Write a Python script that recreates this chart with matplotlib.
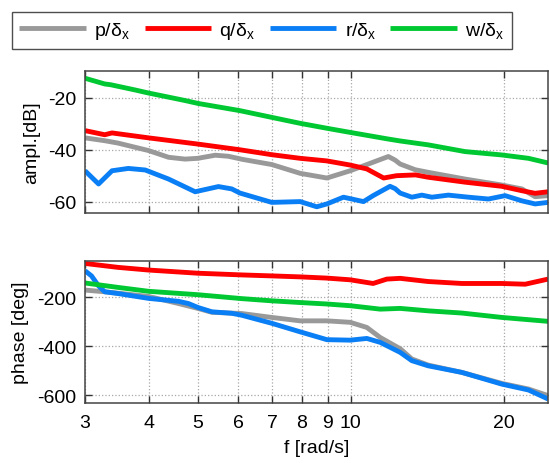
import matplotlib
matplotlib.use("Agg")
import matplotlib.pyplot as plt
from matplotlib.ticker import FixedLocator, FixedFormatter, NullLocator

plt.rcParams['font.family'] = ['Liberation Sans', 'DejaVu Sans']
plt.rcParams['axes.unicode_minus'] = False
plt.rcParams['mathtext.fontset'] = 'custom'
plt.rcParams['mathtext.rm'] = 'Liberation Sans'
plt.rcParams['mathtext.it'] = 'Liberation Sans'

# ---------------- data ----------------
series_labels = ["p/δ$_{\\mathregular{x}}$", "q/δ$_{\\mathregular{x}}$",
                 "r/δ$_{\\mathregular{x}}$", "w/δ$_{\\mathregular{x}}$"]
colors = ["#999999", "#ff0000", "#0a7ff5", "#00c832"]

# amplitude [dB]
p_amp_f = [3.00, 3.28, 3.48, 4.0, 4.38, 4.72, 5.0, 5.41, 5.74, 6.12, 6.99, 7.95, 8.97, 9.97,
           11.06, 11.85, 12.22, 12.5, 13.38, 14.19, 16.77, 19.81, 21.69, 23.03, 24.43]
p_amp = [-35.4, -36.5, -37.4, -40.3, -42.9, -43.6, -43.3, -42.1, -42.5, -43.7, -45.7, -49.1,
         -50.9, -48.1, -44.8, -42.6, -44.0, -45.5, -47.7, -48.7, -51.3, -53.6, -55.1, -58.1, -57.7]

q_amp_f = [3.00, 3.28, 3.39, 4.0, 5.0, 6.05, 6.99, 7.95, 8.97, 9.97, 10.75, 11.6, 12.3,
           13.4, 14.19, 16.77, 19.81, 21.69, 23.03, 24.43]
q_amp = [-32.6, -34.2, -33.5, -35.4, -37.8, -40.0, -41.9, -43.3, -44.3, -45.9, -47.4, -50.9,
         -50.0, -49.7, -50.6, -52.5, -54.1, -55.8, -56.8, -56.2]

r_amp_f = [3.00, 3.19, 3.39, 3.65, 3.94, 4.38, 4.94, 5.49, 5.83, 6.05, 6.99, 7.95, 8.57, 8.97,
           9.67, 10.59, 11.06, 11.94, 12.22, 12.5, 13.18, 13.79, 14.43, 15.55, 17.03, 18.64,
           20.11, 21.69, 23.03, 24.43]
r_amp = [-48.1, -53.2, -48.1, -47.2, -47.8, -51.3, -56.2, -54.2, -55.1, -56.7, -60.3, -60.0,
         -62.0, -60.9, -58.3, -60.0, -57.7, -54.1, -55.0, -56.7, -58.3, -57.5, -58.3, -57.5,
         -58.3, -59.0, -57.7, -59.7, -60.9, -60.3]

w_amp_f = [3.00, 3.28, 3.37, 3.76, 4.0, 4.72, 5.0, 6.05, 6.99, 7.95, 8.97, 9.97, 11.8, 12.5,
           14.19, 16.77, 19.81, 22.35, 24.43]
w_amp = [-12.4, -14.6, -14.9, -16.9, -18.1, -21.0, -22.1, -24.9, -27.5, -29.8, -31.7, -33.3,
         -35.8, -36.6, -38.1, -40.7, -42.0, -43.3, -45.1]

# phase [deg]
p_ph_f = [3.00, 3.28, 4.0, 4.58, 5.0, 5.33, 6.1, 6.99, 7.95, 8.97, 9.97, 10.75, 11.42, 12.5,
          13.18, 14.19, 16.53, 19.81, 22.35, 24.43]
p_ph = [-170, -177, -196, -225, -245, -261, -266, -282, -296, -296, -302, -323, -364, -410,
        -452, -477, -507, -552, -575, -602]

q_ph_f = [3.00, 3.48, 4.0, 5.0, 6.1, 6.99, 7.95, 8.97, 9.97, 11.06, 11.77, 12.5, 14.19,
          16.53, 19.81, 22.02, 24.43]
q_ph = [-61, -77, -88, -101, -108, -112, -116, -121, -128, -143, -125, -122, -135, -143,
        -143, -146, -125]

r_ph_f = [3.00, 3.09, 3.19, 3.28, 3.48, 4.0, 4.58, 4.79, 5.0, 5.33, 5.83, 6.1, 6.99, 7.95,
          8.97, 9.97, 10.75, 11.42, 12.5, 13.18, 14.19, 16.53, 19.81, 22.35, 24.43]
r_ph = [-91, -112, -153, -177, -184, -204, -216, -225, -241, -259, -265, -273, -306, -341,
        -373, -375, -368, -384, -425, -459, -480, -507, -555, -579, -616]

w_ph_f = [3.00, 3.48, 4.0, 5.0, 6.1, 6.99, 7.95, 8.97, 9.97, 11.42, 12.5, 14.19, 16.53,
          19.81, 24.43]
w_ph = [-141, -159, -175, -189, -205, -214, -221, -227, -234, -248, -245, -255, -264, -282,
        -298]

x_ticks = [3, 4, 5, 6, 7, 8, 9, 10, 20]
x_ticklabels = ["3", "4", "5", "6", "7", "8", "9", "10", "20"]
amp_ticks = [-60, -40, -20]
ph_ticks = [-600, -400, -200]

# ---------------- figure ----------------
W, H = 549, 464
fig = plt.figure(figsize=(W / 100, H / 100), dpi=100)

ax1 = fig.add_axes([85 / W, 1 - 214 / H, (548.3 - 85) / W, (214 - 72) / H])
ax2 = fig.add_axes([85 / W, 1 - 403.7 / H, (548.3 - 85) / W, (403.7 - 262) / H])

amp_sets = [(p_amp_f, p_amp), (q_amp_f, q_amp), (r_amp_f, r_amp), (w_amp_f, w_amp)]
ph_sets = [(p_ph_f, p_ph), (q_ph_f, q_ph), (r_ph_f, r_ph), (w_ph_f, w_ph)]

handles = []
for (f, a), c, lab in zip(amp_sets, colors, series_labels):
    h, = ax1.plot(f, a, color=c, lw=3.5, label=lab, solid_joinstyle='round',
                  solid_capstyle='butt')
    handles.append(h)
for (f, a), c in zip(ph_sets, colors):
    ax2.plot(f, a, color=c, lw=3.5, solid_joinstyle='round', solid_capstyle='butt')

for ax in (ax1, ax2):
    ax.set_xscale('log')
    ax.set_xlim(3, 24.45)
    ax.xaxis.set_major_locator(FixedLocator(x_ticks))
    ax.xaxis.set_minor_locator(NullLocator())
    ax.grid(True, which='major', linestyle=':', color='#a8a8a8', linewidth=0.9)
    ax.tick_params(direction='in', top=True, right=True, length=5, width=1,
                   labelsize=14, color='#333333')
    ax.tick_params(axis='x', pad=8)
    ax.tick_params(axis='y', pad=6)
    for s in ax.spines.values():
        s.set_color('#444444')
        s.set_linewidth(1.1)

ax1.xaxis.set_major_formatter(FixedFormatter([""] * len(x_ticks)))
ax2.xaxis.set_major_formatter(FixedFormatter(x_ticklabels))

ax1.set_ylim(-64.4, -9.6)
ax1.set_yticks(amp_ticks)
ax1.set_ylabel("ampl.[dB]", fontsize=14, labelpad=6)

ax2.set_ylim(-631, -51)
ax2.set_yticks(ph_ticks)
ax2.set_ylabel("phase [deg]", fontsize=14, labelpad=6)
ax2.set_xlabel("f [rad/s]", fontsize=14, labelpad=6)

leg = fig.legend(handles=handles, loc='center', ncol=4, mode='expand',
                 bbox_to_anchor=(11.7 / W, 1 - 57.3 / H, 500.6 / W, 51.6 / H),
                 frameon=True, fancybox=False, fontsize=14, handlelength=3.4,
                 handletextpad=0.45, borderaxespad=0, columnspacing=0.8)
leg.get_frame().set_edgecolor('#222222')
leg.get_frame().set_linewidth(1.0)

fig.savefig("out.png", dpi=100)
